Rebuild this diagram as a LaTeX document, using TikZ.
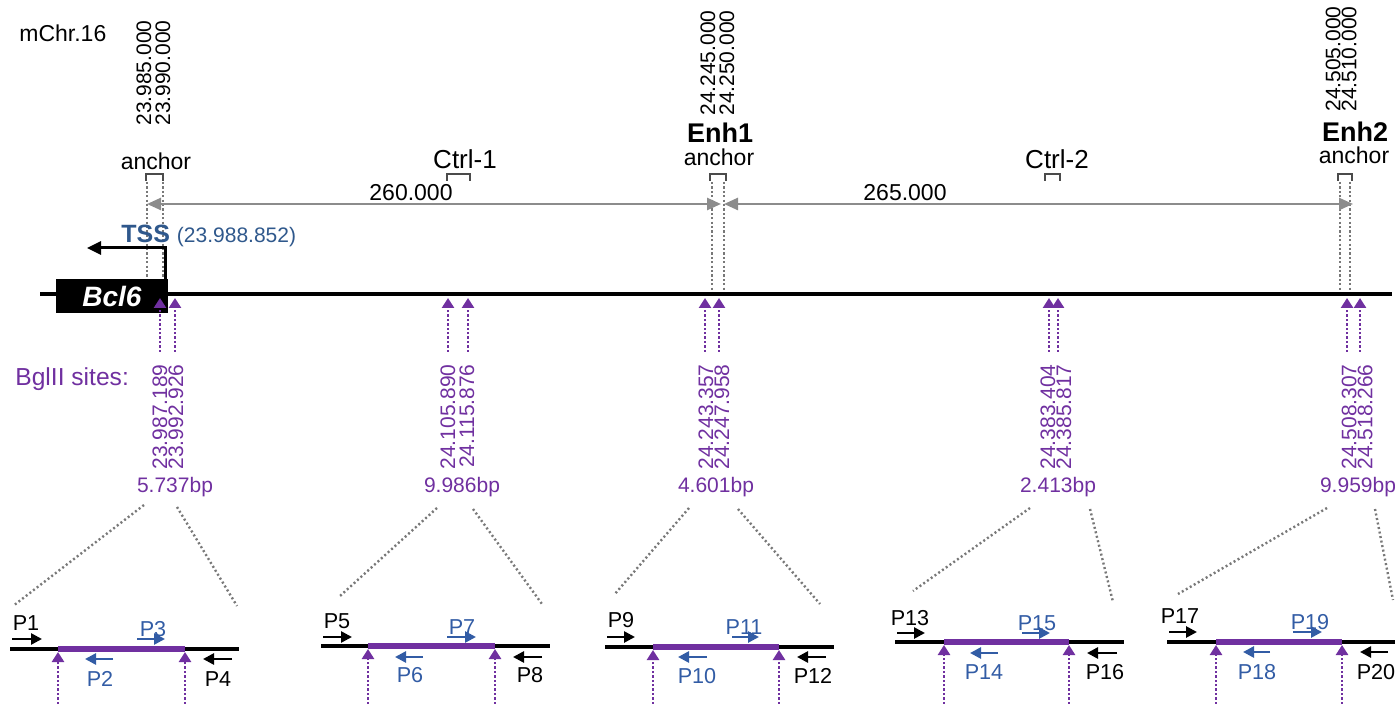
\documentclass[tikz,border=0pt]{standalone}
\usepackage{fontspec}
\setmainfont{Liberation Sans}
\usetikzlibrary{arrows.meta}
\definecolor{bgp}{RGB}{112,48,160}
\definecolor{tssblue}{RGB}{47,88,140}
\definecolor{pblue}{RGB}{50,92,165}
\definecolor{arrgray}{RGB}{140,140,140}
\definecolor{dotgray}{RGB}{120,120,120}
\definecolor{brgray}{RGB}{75,75,75}
\begin{document}
\begin{tikzpicture}[x=0.5pt,y=-0.5pt,
  every node/.style={inner sep=0pt},
  txt/.style={font=\fontsize{11.5}{13}\selectfont},
  bold/.style={font=\fontsize{13.5}{15}\selectfont\bfseries},
  ctrl/.style={font=\fontsize{13}{15}\selectfont},
  vnum/.style={rotate=90, font=\fontsize{10.5}{12}\selectfont},
  pnum/.style={vnum, text=bgp, anchor=east},
  bplab/.style={font=\fontsize{10.5}{12}\selectfont, text=bgp, anchor=base},
  plab/.style={font=\fontsize{10.8}{12}\selectfont, anchor=base},
  anchordot/.style={draw=dotgray, line width=1.2pt, dash pattern=on 1.1pt off 1.1pt},
  bracket/.style={draw=brgray, line width=1.3pt},
  gap/.style={draw=arrgray, line width=1.25pt, {Triangle[length=7pt,width=6pt]}-{Triangle[length=7pt,width=6pt]}},
  site/.style={draw=bgp, line width=1.4pt, dash pattern=on 1.2pt off 1pt, -{Triangle[length=5pt,width=6pt]}},
  fan/.style={draw=dotgray, line width=1.2pt, dash pattern=on 1pt off 1.3pt},
  chrom/.style={draw=black, line width=2.2pt},
  fragline/.style={draw=black, line width=2pt},
  fragp/.style={draw=bgp, line width=3pt},
  primer/.style={line width=1.3pt, -{Triangle[length=5.5pt,width=5.5pt]}}
]
\useasboundingbox (0,0) rectangle (1395,704);

% ---------- header ----------
\node[txt, anchor=base west] (chr) at (19,42) {mChr.16};

\node[vnum, anchor=west] (a1n1) at (144,126) {23.985.000};
\node[vnum, anchor=west] (a1n2) at (163,126) {23.990.000};
\node[vnum, anchor=west] (e1n1) at (708,116) {24.245.000};
\node[vnum, anchor=west] (e1n2) at (727,116) {24.250.000};
\node[vnum, anchor=west] (e2n1) at (1333,112) {24.505.000};
\node[vnum, anchor=west] (e2n2) at (1349,112) {24.510.000};

\node[txt, anchor=base] (a1lab) at (156,170) {anchor};
\node[bold, anchor=base] (e1b) at (720,143) {Enh1};
\node[txt, anchor=base] (e1lab) at (719,166) {anchor};
\node[bold, anchor=base] (e2b) at (1355,142) {Enh2};
\node[txt, anchor=base] (e2lab) at (1354,164) {anchor};
\node[ctrl, anchor=base] (c1lab) at (465,169) {Ctrl-1};
\node[ctrl, anchor=base] (c2lab) at (1057,169) {Ctrl-2};

% brackets
\draw[bracket] (146,181) -- (146,174) -- (163,174) -- (163,181);
\draw[bracket] (447,181) -- (447,174) -- (470,174) -- (470,181);
\draw[bracket] (710,181) -- (710,174) -- (726,174) -- (726,181);
\draw[bracket] (1045,181) -- (1045,174) -- (1060,174) -- (1060,181);
\draw[bracket] (1338,181) -- (1338,174) -- (1352,174) -- (1352,181);

% anchor dotted guides
\coordinate (g1a) at (147,182); \coordinate (g1b) at (147,279);
\coordinate (g2a) at (163,182); \coordinate (g2b) at (163,279);
\coordinate (g3a) at (712,182); \coordinate (g3b) at (712,292);
\coordinate (g4a) at (724,182); \coordinate (g4b) at (724,292);
\coordinate (g5a) at (1340,182); \coordinate (g5b) at (1340,292);
\coordinate (g6a) at (1350,182); \coordinate (g6b) at (1350,292);
\foreach \i in {1,...,6} \draw[anchordot] (g\i a) -- (g\i b);

% distance arrows
\coordinate (d1) at (147,204); \coordinate (d2) at (721,204);
\coordinate (d3) at (724,204); \coordinate (d4) at (1353,204);
\draw[gap] (d1) -- (d2);
\draw[gap] (d3) -- (d4);
\node[txt, anchor=base] (dist1) at (411,201) {260.000};
\node[txt, anchor=base] (dist2) at (905,201) {265.000};

% TSS
\node[anchor=base west, text=tssblue] (tss) at (121,243)
  {\fontsize{12.5}{14}\selectfont\bfseries TSS \fontsize{10.5}{12}\selectfont\mdseries(23.988.852)};
\coordinate (tssa) at (165,279); \coordinate (tssb) at (165,248); \coordinate (tssc) at (87,248);
\draw[line width=1.5pt, -{Triangle[length=7pt,width=6.5pt]}] (tssa) -- (tssb) -- (tssc);

% chromosome
\coordinate (chl) at (40,294); \coordinate (chr2) at (1392,294);
\draw[chrom] (chl) -- (chr2);
\node[fill=black, text=white, minimum width=56pt, minimum height=17pt,
      font=\fontsize{14}{16}\selectfont\bfseries\itshape] (bcl6) at (112,296) {Bcl6};

% BglII sites on chromosome
\foreach \x in {160,175,448,468,705,719,1049,1058,1347,1360}
  \draw[site] (\x,352) -- (\x,298);

\node[font=\fontsize{12.3}{14}\selectfont, text=bgp, anchor=base west] (bgl) at (15,386) {BglII sites:};

\node[pnum] (s1a) at (160,364) {23.987.189};
\node[pnum] (s1b) at (176,364) {23.992.926};
\node[pnum] (s2a) at (448,364) {24.105.890};
\node[pnum] (s2b) at (467,364) {24.115.876};
\node[pnum] (s3a) at (706,364) {24.243.357};
\node[pnum] (s3b) at (722,364) {24.247.958};
\node[pnum] (s4a) at (1048,364) {24.383.404};
\node[pnum] (s4b) at (1064,364) {24.385.817};
\node[pnum] (s5a) at (1349,364) {24.508.307};
\node[pnum] (s5b) at (1365,364) {24.518.266};

\node[bplab] (bp1) at (175,493) {5.737bp};
\node[bplab] (bp2) at (462,493) {9.986bp};
\node[bplab] (bp3) at (716,493) {4.601bp};
\node[bplab] (bp4) at (1058,493) {2.413bp};
\node[bplab] (bp5) at (1358,493) {9.959bp};

% fans
\coordinate (f1la) at (144,505); \coordinate (f1lb) at (13,606);
\coordinate (f1ra) at (177,507); \coordinate (f1rb) at (237,606);
\coordinate (f2la) at (437,508); \coordinate (f2lb) at (340,596);
\coordinate (f2ra) at (473,509); \coordinate (f2rb) at (542,604);
\coordinate (f3la) at (689,508); \coordinate (f3lb) at (614,595);
\coordinate (f3ra) at (738,509); \coordinate (f3rb) at (820,604);
\coordinate (f4la) at (1030,508); \coordinate (f4lb) at (913,591);
\coordinate (f4ra) at (1090,509); \coordinate (f4rb) at (1113,602);
\coordinate (f5la) at (1327,508); \coordinate (f5lb) at (1178,594);
\coordinate (f5ra) at (1375,509); \coordinate (f5rb) at (1393,600);
\foreach \i in {1,...,5} {
  \draw[fan] (f\i la) -- (f\i lb);
  \draw[fan] (f\i ra) -- (f\i rb);
}

% fragment panels
\foreach \y/\la/\lb/\pa/\pb in {649/10/239/58/185, 646/321/550/368/495, 647/605/834/653/779,
                                642/895/1124/944/1069, 642/1167/1395/1216/1342} {
  \draw[fragline] (\la,\y) -- (\lb,\y);
  \draw[fragp] (\pa,\y) -- (\pb,\y);
  \draw[site] (\pa,704) -- (\pa,\y+3);
  \draw[site] (\pb,704) -- (\pb,\y+3);
}

% primers: forward black, forward blue (top), reverse blue, reverse black
\foreach \fa/\fb/\fy/\ba/\bb/\by/\ra/\rb/\ry/\ka/\kb/\ky in {
   12/42/639/137/165/639/113/85/659/232/203/659,
   323/352/637/447/476/637/423/395/657/542/513/657,
   607/635/637/732/759/637/707/678/657/826/797/657,
   897/925/633/1022/1050/633/998/970/653/1117/1087/653,
   1169/1197/632/1293/1322/632/1270/1243/652/1388/1360/652} {
  \draw[primer, black] (\fa,\fy) -- (\fb,\fy);
  \draw[primer, pblue] (\ba,\by) -- (\bb,\by);
  \draw[primer, pblue] (\ra,\ry) -- (\rb,\ry);
  \draw[primer, black] (\ka,\ky) -- (\kb,\ky);
}

\node[plab] (p1) at (26,630) {P1};
\node[plab, text=pblue] (p3) at (153,636) {P3};
\node[plab, text=pblue] (p2) at (100,686) {P2};
\node[plab] (p4) at (218,686) {P4};

\node[plab] (p5) at (337,628) {P5};
\node[plab, text=pblue] (p7) at (462,634) {P7};
\node[plab, text=pblue] (p6) at (410,682) {P6};
\node[plab] (p8) at (530,682) {P8};

\node[plab] (p9) at (621,627) {P9};
\node[plab, text=pblue] (p11) at (744,634) {P11};
\node[plab, text=pblue] (p10) at (697,683) {P10};
\node[plab] (p12) at (813,683) {P12};

\node[plab] (p13) at (910,625) {P13};
\node[plab, text=pblue] (p15) at (1037,630) {P15};
\node[plab, text=pblue] (p14) at (984,679) {P14};
\node[plab] (p16) at (1105,679) {P16};

\node[plab] (p17) at (1180,623) {P17};
\node[plab, text=pblue] (p19) at (1310,629) {P19};
\node[plab, text=pblue] (p18) at (1257,679) {P18};
\node[plab] (p20) at (1376,679) {P20};
\end{tikzpicture}
\end{document}
